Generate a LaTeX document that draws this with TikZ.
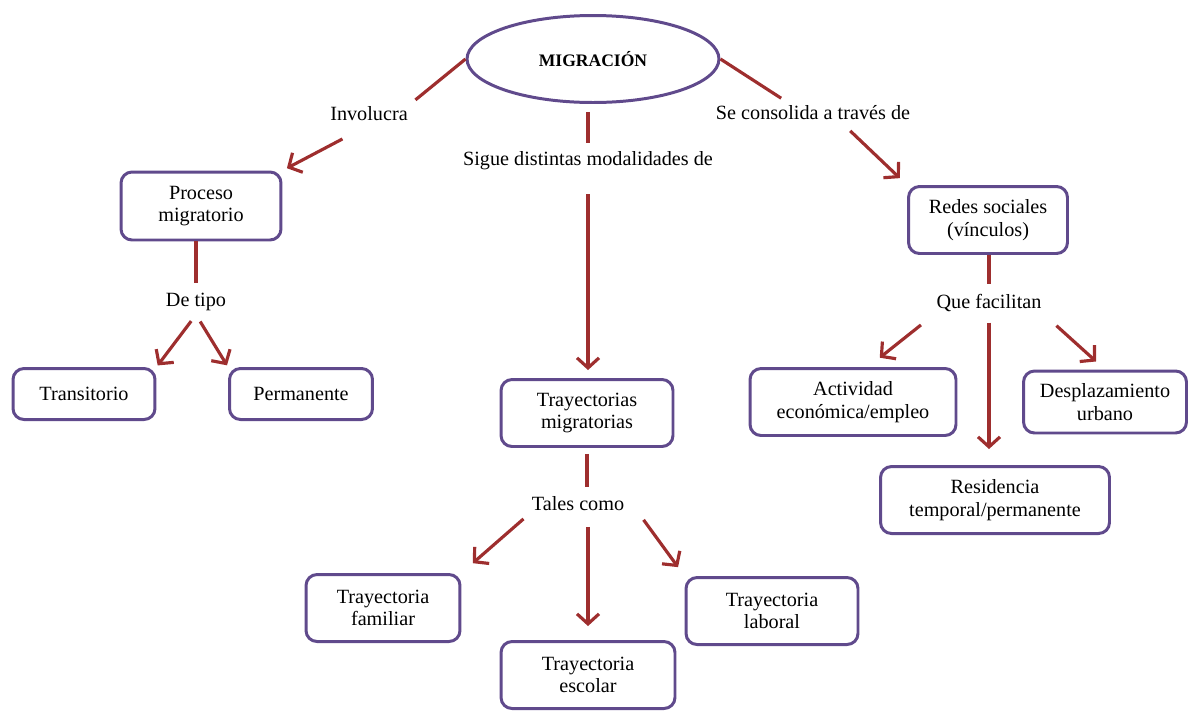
\documentclass[tikz,border=0pt]{standalone}
\usepackage{fontspec}
\setmainfont{Liberation Serif}
\usetikzlibrary{shapes.geometric,arrows.meta}
\definecolor{lila}{RGB}{96,74,140}
\definecolor{rojo}{RGB}{158,46,46}
\tikzset{%
		caja/.style={draw=lila,line width=1.7pt,rounded corners=.22cm,fill=white,align=center,
			font=\fontsize{11.5}{12.8}\selectfont,inner sep=1pt},
		etiqueta/.style={font=\fontsize{11.5}{12.8}\selectfont,inner sep=2pt},
		linea/.style={draw=rojo,line width=1.8pt},
		flecha/.style={linea,-{Straight Barb[length=.2cm,width=.44cm,line width=1.8pt]}}
	}

\begin{document}
\begin{tikzpicture}[x={(0.02cm,0)},y={(0,-0.02cm)}]
      \useasboundingbox (0,0) rectangle (1189,711) ;
      % centro
      \node[ellipse,draw=lila,line width=1.7pt,minimum width=5.04cm,minimum height=1.74cm,inner sep=0pt,
        font=\fontsize{10}{12}\selectfont\bfseries] (migracion) at (593,59) {MIGRACIÓN};
      \node[etiqueta] (involucra) at (369,114) {Involucra};
      \node[etiqueta] (sigue) at (588,161) {Sigue distintas modalidades de};
      \node[etiqueta] (consolida) at (813,113) {Se consolida a través de};

      % rama izquierda
      \node[caja,minimum width=3.2cm,minimum height=1.36cm] (proceso) at (201,206) {Proceso\\migratorio};
      \node[etiqueta] (detipo) at (196,302) {De tipo};
      \node[caja,minimum width=2.84cm,minimum height=1.02cm] (transitorio) at (84,394) {Transitorio};
      \node[caja,minimum width=2.86cm,minimum height=1.02cm] (permanente) at (301,394) {Permanente};

      % rama central
      \node[caja,minimum width=3.44cm,minimum height=1.34cm] (trayectorias) at (587,413) {Trayectorias\\migratorias};
      \node[etiqueta] (tales) at (578,504) {Tales como};
      \node[caja,minimum width=3.08cm,minimum height=1.34cm] (familiar) at (383,608) {Trayectoria\\familiar};
      \node[caja,minimum width=3.48cm,minimum height=1.34cm] (escolar) at (588,675) {Trayectoria\\escolar};
      \node[caja,minimum width=3.44cm,minimum height=1.34cm] (laboral) at (772,611) {Trayectoria\\laboral};

      % rama derecha
      \node[caja,minimum width=3.18cm,minimum height=1.34cm] (redes) at (988,220) {Redes sociales\\(vínculos)};
      \node[etiqueta] (facilitan) at (989,303) {Que facilitan};
      \node[caja,minimum width=4.12cm,minimum height=1.34cm] (actividad) at (853,402) {Actividad\\económica/empleo};
      \node[caja,minimum width=3.26cm,minimum height=1.24cm] (desplazamiento) at (1105,402) {Desplazamiento\\urbano};
      \node[caja,minimum width=4.58cm,minimum height=1.34cm] (residencia) at (995,500) {Residencia\\temporal/permanente};

      % conectores
      \draw[linea,shorten >=.1cm] (migracion.west) -- (involucra.north east) ;
      \draw[flecha,shorten <=.6cm,shorten >=.1cm] (involucra.south) -- (proceso.north east) ;
      \draw[linea,shorten <=.16cm,shorten >=.1cm] (sigue.north |- migracion.south) -- (sigue.north) ;
      \draw[flecha,shorten <=.4cm,shorten >=.16cm] (sigue.south) -- (sigue.south |- trayectorias.north) ;
      \draw[linea,shorten >=.14cm] (migracion.east) -- ([xshift=-.52cm]consolida.north) ;
      \draw[flecha,shorten <=.2cm,shorten >=.2cm] ([xshift=.6cm]consolida.south) -- (redes.north west) ;

      \draw[linea,shorten >=.12cm] (detipo.north |- proceso.south) -- (detipo.north) ;
      \draw[flecha,shorten <=.16cm,shorten >=.04cm] (detipo.south) -- (transitorio.north east) ;
      \draw[flecha,shorten <=.16cm,shorten >=.04cm] (detipo.south) -- (permanente.north west) ;

      \draw[linea,shorten <=.12cm,shorten >=.12cm] (trayectorias.south) -- (trayectorias.south |- tales.north) ;
      \draw[flecha,shorten <=.12cm,shorten >=.3cm] (tales.south west) -- (familiar.north east) ;
      \draw[flecha,shorten <=.24cm,shorten >=.28cm] (escolar.north |- tales.south) -- (escolar.north) ;
      \draw[flecha,shorten <=.12cm,shorten >=.22cm] ([xshift=.24cm]tales.south east) -- (laboral.north west) ;

      \draw[linea,shorten >=.12cm] (facilitan.north |- redes.south) -- (facilitan.north) ;
      \draw[flecha,shorten <=.3cm,shorten >=.3cm] (facilitan.south west) -- ([xshift=.3cm]actividad.north) ;
      \draw[flecha,shorten <=.14cm,shorten >=.32cm] (facilitan.south) -- (facilitan.south |- residencia.north) ;
      \draw[flecha,shorten <=.3cm,shorten >=.24cm] (facilitan.south east) -- (desplazamiento.north) ;
	\end{tikzpicture}
\end{document}
